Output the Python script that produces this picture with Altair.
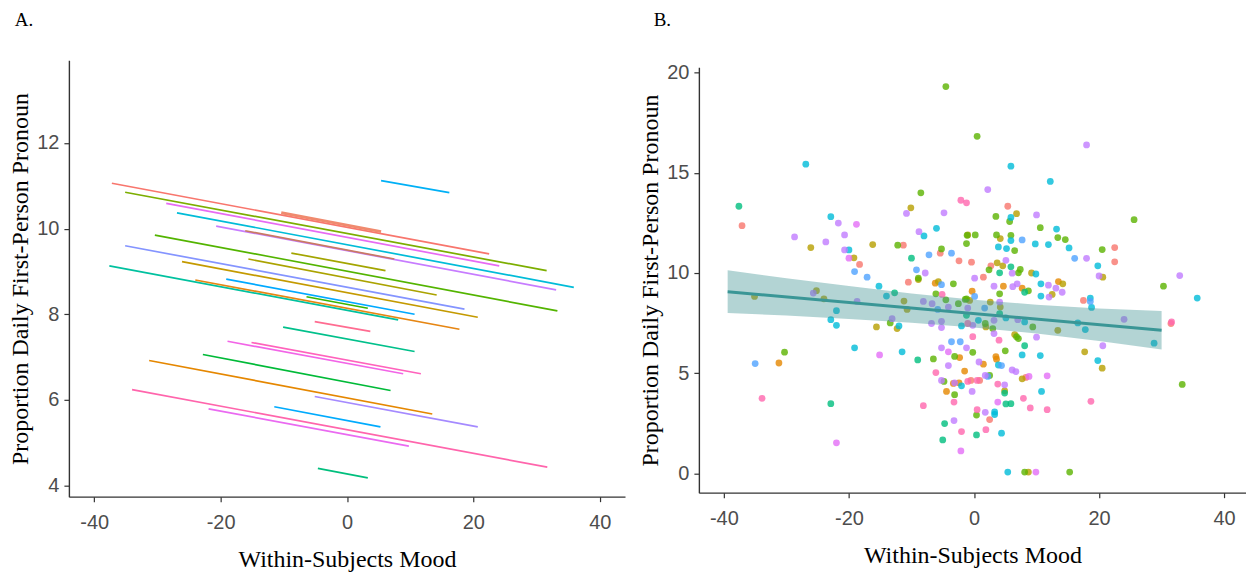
import altair as alt
import pandas as pd

X_TICKS = [-40, -20, 0, 20, 40]
A_Y_TICKS = [4, 6, 8, 10, 12]
B_Y_TICKS = [0, 5, 10, 15, 20]

# ---------------- Panel A: per-participant fitted lines ----------------
a_x1 = [-37.2, -35.1, -28.6, -26.9, -20.7, -16.1, 5.4, -30.4, -8.8, -35.1,
        -15.6, -26.1, -37.6, -24.0, -19.1, -6.4, -5.1, -10.1, -18.9, -15.1,
        -22.8, -31.3, -5.1, -11.5, -34.0, -21.9, -4.6]
a_y1 = [11.06, 10.85, 10.59, 10.37, 10.06, 9.95, 11.12, 9.85, 9.43, 9.60,
        9.29, 9.23, 9.13, 8.80, 8.82, 8.41, 7.83, 7.70, 7.37, 7.34,
        7.06, 6.92, 6.08, 5.84, 6.24, 5.79, 4.40]
a_x2 = [22.5, 31.6, 24.1, 35.9, 33.1, 7.5, 16.2, 33.3, 6.1, 18.6,
        14.2, 20.7, 8.1, 17.8, 10.7, 3.3, 3.7, 10.7, 8.9, 11.7,
        6.9, 13.5, 20.7, 5.3, 31.7, 9.8, 3.3]
a_y2 = [9.41, 9.02, 9.13, 8.63, 8.57, 9.29, 10.84, 8.08, 9.02, 8.12,
        8.45, 7.93, 7.87, 7.65, 8.00, 8.14, 7.60, 7.13, 6.61, 6.61,
        6.22, 5.67, 5.37, 5.37, 4.43, 4.92, 4.18]
a_col = ["#F8766D", "#7CAE00", "#E76BF3", "#00BCD8", "#C77CFF", "#C97A63", "#00B0F6",
         "#53B400", "#A3A500", "#8494FF", "#ABA300", "#C49A00", "#00C19F", "#E68613",
         "#00A9FF", "#39B600", "#FF6C91", "#00C08B", "#F265E7", "#FF62BC", "#00BA38",
         "#E58700", "#A58AFF", "#00ABFD", "#FF65AC", "#EA6AF1", "#00BF7D"]

# overlapping (thicker-looking) segment
a_thick_x1 = [-10.4]
a_thick_y1 = [10.37]
a_thick_x2 = [5.4]
a_thick_y2 = [9.93]
a_thick_col = ["#F08A6E"]

# ---------------- Panel B: observations ----------------
pts_salmon = [(-37.1, 12.36), (-11.3, 11.39), (-18.3, 10.43), (-5.4, 10.99), (-2.4, 10.61),
              (1.5, 9.79), (-0.4, 10.54), (22.5, 11.27), (22.5, 10.56), (5.4, 13.33),
              (-10.5, 9.54), (17.5, 8.63), (31.5, 7.48), (8.3, 4.79), (-0.5, 4.64),
              (0.9, 4.64), (2.5, 2.69), (2.7, 10.36)]
pts_orange = [(-6.2, 9.49), (-2.3, 5.78), (-1.5, 5.11), (-3.3, 4.49), (-2.4, 4.52),
              (-4.4, 4.09), (-31.2, 5.51), (7.7, 9.24), (13.5, 9.57), (-0.3, 9.09),
              (3.5, 5.83), (3.6, 5.7), (1.5, 5.45), (4.7, 9.34)]
pts_olive = [(-10.1, 13.25), (-26.1, 11.27), (-16.2, 11.42), (-19.2, 10.76), (-8.9, 9.67),
             (-5.7, 9.57), (-11.2, 8.6), (-10.7, 8.18), (-24.0, 8.71), (-25.2, 9.12),
             (-35.1, 8.83), (-15.6, 7.31), (-12.3, 7.23), (-1.0, 11.9), (4.2, 11.72),
             (6.8, 12.96), (3.7, 10.51), (4.6, 10.36), (9.2, 10.0), (20.6, 9.79),
             (14.2, 9.46), (12.5, 8.93), (-0.7, 8.63), (2.6, 8.55), (4.2, 8.3),
             (1.9, 7.31), (6.5, 6.93), (13.4, 7.14), (17.7, 6.07), (20.5, 5.25),
             (7.7, 4.72), (4.9, 4.12), (8.7, 0.07)]
pts_green = [(-4.5, 19.3), (-8.5, 14.0), (-12.2, 11.39), (-5.2, 11.2), (-1.1, 11.88),
             (-1.2, 11.47), (-8.9, 9.74), (0.5, 16.82), (5.7, 12.57), (3.5, 12.82),
             (10.6, 12.26), (13.4, 11.77), (14.6, 11.67), (25.6, 12.66), (0.2, 11.9),
             (3.6, 11.9), (5.9, 11.88), (6.5, 11.12), (2.4, 10.16), (7.4, 10.18),
             (7.1, 10.01), (20.5, 11.17), (-3.3, 9.46), (-6.1, 8.96), (-4.5, 8.66),
             (-2.5, 8.47), (-1.4, 8.68), (-13.4, 7.51), (-6.5, 5.71), (-3.1, 5.84),
             (-4.8, 4.59), (-3.1, 3.93), (-30.3, 6.05), (8.7, 9.11), (-1.2, 8.71),
             (1.8, 7.48), (3.0, 7.23), (9.4, 7.31), (6.8, 6.82), (7.1, 6.73),
             (30.3, 9.34), (33.3, 4.44), (5.0, 6.12), (2.5, 4.89), (0.4, 2.91),
             (8.1, 0.07), (15.3, 0.07), (4.1, 8.96), (-0.2, 6.04)]
pts_teal = [(-37.6, 13.33), (-10.0, 10.74), (5.9, 10.31), (4.1, 10.01), (-12.7, 9.01),
            (8.1, 9.04), (4.1, 7.97), (-1.2, 7.89), (8.1, 6.37), (4.9, 4.01),
            (5.9, 3.48), (5.1, 3.47), (-9.0, 5.66), (-22.9, 3.48), (-5.0, 1.67),
            (-4.7, 2.49), (0.4, 1.92)]
pts_cyan = [(-26.9, 15.43), (-22.9, 12.81), (-20.0, 11.15), (-6.0, 12.23), (-8.0, 11.85),
            (5.9, 15.33), (12.2, 14.57), (5.9, 12.77), (13.2, 12.19), (15.2, 11.25),
            (5.9, 11.62), (9.8, 11.45), (11.9, 11.42), (3.9, 11.3), (5.2, 11.22),
            (9.9, 9.95), (19.8, 10.36), (-15.2, 9.34), (-14.0, 8.85), (-22.0, 8.12),
            (-22.9, 7.67), (-22.0, 7.39), (-12.0, 7.36), (-2.0, 7.36), (-19.1, 6.27),
            (-11.5, 6.07), (-2.0, 4.37), (10.7, 9.46), (10.7, 8.85), (0.7, 7.64),
            (5.1, 7.76), (8.1, 7.56), (16.6, 7.51), (17.8, 7.18), (18.8, 8.28),
            (18.6, 8.75), (28.8, 6.5), (35.7, 8.75), (19.8, 5.63), (10.8, 4.09),
            (10.6, 5.88), (7.7, 5.91), (3.9, 5.41), (3.3, 3.07), (3.3, 2.94),
            (4.4, 2.01), (5.4, 0.07)]
pts_blue = [(-19.1, 10.07), (-7.2, 10.91), (-3.6, 10.99), (-9.2, 10.16), (-17.1, 9.79),
            (7.7, 11.65), (16.1, 10.73), (-5.2, 9.42), (-5.8, 8.18), (-3.6, 6.57),
            (-2.2, 6.57), (-35.0, 5.48), (0.1, 8.83), (1.7, 8.25), (18.6, 8.58),
            (4.4, 5.38), (2.2, 4.84)]
pts_violet = [(-10.8, 12.97), (-4.8, 13.0), (-21.7, 12.49), (-20.7, 11.9), (-28.7, 11.8),
              (-23.7, 11.55), (-20.7, 11.15), (-8.8, 12.06), (-7.8, 10.0), (18.0, 16.39),
              (2.2, 14.16), (10.0, 12.9), (5.1, 10.63), (6.1, 9.99), (0.1, 9.74),
              (18.0, 10.73), (20.0, 9.85), (32.9, 9.87), (-8.1, 8.58), (-6.7, 8.47),
              (-4.1, 8.3), (-18.7, 8.58), (-25.7, 9.0), (-13.1, 7.72), (-6.8, 7.48),
              (-5.2, 7.59), (-5.2, 7.28), (-5.2, 6.27), (-4.1, 5.38), (-5.2, 4.64),
              (-3.1, 4.52), (-3.2, 2.64), (3.2, 9.34), (6.2, 9.32), (6.9, 9.46),
              (11.9, 9.39), (13.1, 9.24), (14.1, 9.04), (12.0, 8.8), (-1.0, 8.25),
              (4.1, 8.55), (3.2, 7.64), (3.2, 6.98), (-0.2, 7.39), (7.0, 7.67),
              (10.0, 6.8), (24.0, 7.69), (20.6, 6.37), (6.1, 5.16), (6.7, 5.08),
              (0.8, 5.56), (1.8, 4.89), (-0.3, 4.09), (4.9, 4.42), (1.8, 3.05),
              (-1.2, 6.27)]
pts_magenta = [(-18.8, 12.43), (-20.0, 10.74), (-15.1, 5.91), (-22.0, 1.53), (-4.1, 6.07),
               (-2.1, 1.12), (11.7, 4.87), (9.9, 0.07), (3.8, 3.56), (8.8, 4.84)]
pts_pink = [(-2.1, 13.63), (-1.2, 13.5), (-5.1, 8.93), (-6.1, 5.03), (-3.2, 3.56),
            (-8.1, 3.38), (-2.0, 2.09), (-33.9, 3.75), (-1.0, 7.48), (31.6, 7.56),
            (18.7, 3.6), (11.7, 3.18), (9.0, 3.27), (7.9, 3.75), (4.0, 6.65),
            (-1.0, 4.59), (0.5, 4.64), (3.8, 4.46), (0.5, 3.18), (1.9, 2.18),
            (-0.2, 6.82)]

group_names = ["salmon", "orange", "olive", "green", "teal", "cyan", "blue",
               "violet", "magenta", "pink"]
group_colors = ["#F8766D", "#E58700", "#B79F00", "#5BB300", "#00BE7E", "#00BCD8",
                "#4FA3FF", "#C07CFF", "#E36EF6", "#FF66AE"]
group_points = [pts_salmon, pts_orange, pts_olive, pts_green, pts_teal, pts_cyan,
                pts_blue, pts_violet, pts_magenta, pts_pink]

# fitted line and confidence band
fit_x = [-39.4, 30.0]
fit_y = [9.07, 7.14]
rib_x = [-39.4, -30, -20, -10, 0, 10, 20, 30]
rib_lo = [8.00, 7.88, 7.71, 7.52, 7.28, 6.98, 6.61, 6.18]
rib_hi = [10.14, 9.74, 9.35, 8.98, 8.66, 8.42, 8.23, 8.10]

# ---------------- build ----------------
lines_df = pd.DataFrame({"x1": a_x1, "y1": a_y1, "x2": a_x2, "y2": a_y2, "col": a_col})
thick_df = pd.DataFrame({"x1": a_thick_x1, "y1": a_thick_y1, "x2": a_thick_x2,
                         "y2": a_thick_y2, "col": a_thick_col})
rows = []
for g, pts in zip(group_names, group_points):
    for x, y in pts:
        rows.append({"x": x, "y": y, "g": g})
pts_df = pd.DataFrame(rows)
fit_df = pd.DataFrame({"x": fit_x, "y": fit_y})
rib_df = pd.DataFrame({"x": rib_x, "lo": rib_lo, "hi": rib_hi})

XT = "Within-Subjects Mood"
YT = "Proportion Daily First-Person Pronoun"
lab = "'' + datum.value"

def title(t, dx):
    return alt.TitleParams(text=t, anchor="start", frame="bounds", font="Liberation Serif",
                           fontSize=19, fontWeight="normal", color="black", offset=30, dx=dx)

H = 437  # common plot height (panel A)

xA_scale = alt.Scale(domain=[-44, 44], nice=False, zero=False)
yA_scale = alt.Scale(domain=[3.74, 13.93], nice=False, zero=False)

a_lines = alt.Chart(lines_df).mark_rule(strokeWidth=1.7).encode(
    x=alt.X("x1:Q", scale=xA_scale, axis=alt.Axis(values=X_TICKS, title=XT, labelExpr=lab)),
    x2="x2:Q",
    y=alt.Y("y1:Q", scale=yA_scale, axis=alt.Axis(values=A_Y_TICKS, title=YT, labelExpr=lab)),
    y2="y2:Q",
    color=alt.Color("col:N", scale=None),
)
a_thick = alt.Chart(thick_df).mark_rule(strokeWidth=3).encode(
    x="x1:Q", x2="x2:Q", y="y1:Q", y2="y2:Q", color=alt.Color("col:N", scale=None))

panelA = alt.layer(a_lines, a_thick).properties(width=557, height=H, title=title("A.", 6))

HB = 433
xB_scale = alt.Scale(domain=[-44, 43.5], nice=False, zero=False)
yB_scale = alt.Scale(domain=[-0.96, 20.26], nice=False, zero=False, range=[HB, 7])

b_pts = alt.Chart(pts_df).mark_circle(size=46, opacity=0.8).encode(
    x=alt.X("x:Q", scale=xB_scale, axis=alt.Axis(values=X_TICKS, title=XT, labelExpr=lab)),
    y=alt.Y("y:Q", scale=yB_scale, axis=alt.Axis(values=B_Y_TICKS, title=YT, labelExpr=lab)),
    color=alt.Color("g:N", scale=alt.Scale(domain=group_names, range=group_colors), legend=None),
)
b_rib = alt.Chart(rib_df).mark_area(color="#419393", opacity=0.4).encode(
    x="x:Q", y="lo:Q", y2="hi:Q")
b_fit = alt.Chart(fit_df).mark_line(color="#3A9696", strokeWidth=3).encode(
    x="x:Q", y="y:Q")

panelB = alt.layer(b_pts, b_rib, b_fit).properties(width=548, height=HB, title=title("B.", 15))

chart = alt.hconcat(panelA, panelB, spacing=74, bounds="flush").properties(
    padding={"left": 0, "top": 3, "right": 0, "bottom": 0}
).configure_view(stroke=None).configure_axis(
    grid=False,
    domainColor="#333333", domainWidth=1.4,
    tickColor="#333333", tickWidth=1.2, tickSize=5,
    labelFont="Liberation Sans", labelFontSize=20, labelColor="#4D4D4D", labelPadding=5,
    titleFont="Liberation Serif", titleFontSize=24, titleFontWeight="normal",
    titleColor="black", titlePadding=4,
).configure_axisX(labelPadding=11, titlePadding=15)

chart.save("out.html", embed_options={"renderer": "svg", "actions": False})
